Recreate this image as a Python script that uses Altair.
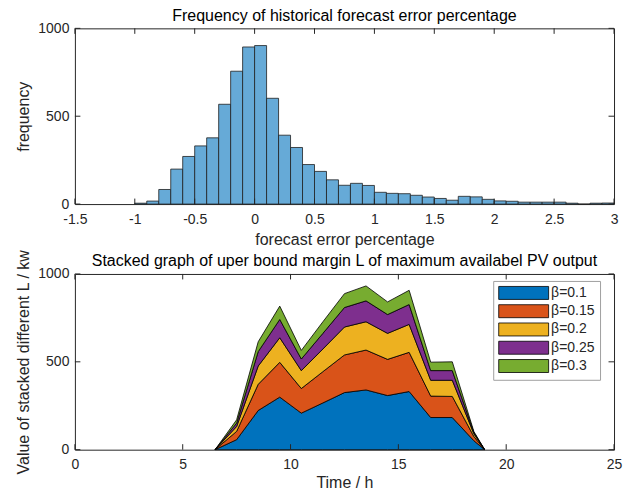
import altair as alt
import pandas as pd

# ---------------- data: histogram ----------------
bin_starts = [-1.0, -0.9, -0.8, -0.7, -0.6, -0.5, -0.4, -0.3, -0.2, -0.1,
              0.0, 0.1, 0.2, 0.3, 0.4, 0.5, 0.6, 0.7, 0.8, 0.9,
              1.0, 1.1, 1.2, 1.3, 1.4, 1.5, 1.6, 1.7, 1.8, 1.9,
              2.0, 2.1, 2.2, 2.3, 2.4, 2.5, 2.6, 2.7, 2.8, 2.9]
bin_width = 0.1
counts = [5, 17, 83, 199, 271, 331, 377, 568, 756, 894,
          902, 602, 392, 322, 225, 186, 138, 107, 118, 106,
          67, 61, 59, 50, 40, 32, 22, 44, 41, 27,
          18, 16, 11, 11, 11, 11, 5, 0, 5, 6]

hist_x_ticks = [-1.5, -1.0, -0.5, 0.0, 0.5, 1.0, 1.5, 2.0, 2.5, 3.0]
hist_y_ticks = [0, 500, 1000]

# ---------------- data: stacked area ----------------
hours = [6.5, 7.5, 8.5, 9.5, 10.5, 11.5, 12.5, 13.5, 14.5, 15.5, 16.5, 17.5, 18.5, 19.0]
series_names = ["β=0.1", "β=0.15", "β=0.2", "β=0.25", "β=0.3"]
beta_01 = [0, 57, 223, 299, 208, 266, 325, 340, 308, 331, 183, 183, 51, 0]
beta_015 = [0, 47, 149, 198, 140, 178, 214, 227, 206, 223, 122, 120, 24, 0]
beta_02 = [0, 28, 104, 140, 102, 129, 159, 161, 148, 159, 90, 92, 16, 0]
beta_025 = [0, 19, 82, 104, 66, 89, 111, 119, 107, 113, 55, 55, 7, 0]
beta_03 = [0, 19, 56, 76, 49, 66, 79, 85, 72, 81, 48, 50, 6, 0]
series_colors = ["#0072BD", "#D95319", "#EDB120", "#7E2F8E", "#77AC30"]

area_x_ticks = [0, 5, 10, 15, 20, 25]
area_y_ticks = [0, 500, 1000]

# ---------------- tables ----------------
hist_df = pd.DataFrame({
    "start": bin_starts,
    "end": [round(s + bin_width, 2) for s in bin_starts],
    "count": counts,
})

rows = []
for idx, (name, vals) in enumerate(zip(series_names,
                                       [beta_01, beta_015, beta_02, beta_025, beta_03])):
    for h, v in zip(hours, vals):
        rows.append({"hour": h, "series": name, "value": v, "idx": idx})
area_df = pd.DataFrame(rows)

W, H = 540, 176
TICK = 5.5
INK = "#262626"
FONT = "Liberation Sans"


def inside_ticks(xticks, yticks, xscale, yscale):
    xt = pd.DataFrame({"t": xticks})
    yt = pd.DataFrame({"t": yticks})
    bx = alt.Chart(xt).mark_rule(color=INK, strokeWidth=1).encode(
        x=alt.X("t:Q", scale=xscale), y=alt.value(H), y2=alt.value(H - TICK))
    tx = alt.Chart(xt).mark_rule(color=INK, strokeWidth=1).encode(
        x=alt.X("t:Q", scale=xscale), y=alt.value(0), y2=alt.value(TICK))
    ly = alt.Chart(yt).mark_rule(color=INK, strokeWidth=1).encode(
        y=alt.Y("t:Q", scale=yscale), x=alt.value(0), x2=alt.value(TICK))
    ry = alt.Chart(yt).mark_rule(color=INK, strokeWidth=1).encode(
        y=alt.Y("t:Q", scale=yscale), x=alt.value(W - TICK), x2=alt.value(W))
    return [bx, tx, ly, ry]


# ---------------- top: histogram ----------------
hx = alt.Scale(domain=[-1.5, 3.0], nice=False, zero=False)
hy = alt.Scale(domain=[0, 1000], nice=False)

bars = alt.Chart(hist_df).mark_bar(
    color="#66AAD7", stroke="#1f1f1f", strokeWidth=0.8, opacity=1
).encode(
    x=alt.X("start:Q", scale=hx,
            axis=alt.Axis(values=hist_x_ticks, labelExpr="toString(datum.value)",
                          titlePadding=5),
            title="forecast error percentage"),
    x2="end:Q",
    y=alt.Y("count:Q", scale=hy,
            axis=alt.Axis(values=hist_y_ticks, labelExpr="toString(datum.value)"),
            title="frequency"),
    y2=alt.datum(0),
)

top = alt.layer(bars, *inside_ticks(hist_x_ticks, hist_y_ticks, hx, hy)).properties(
    width=W, height=H,
    title=alt.TitleParams("Frequency of historical forecast error percentage", offset=-3),
)

# ---------------- bottom: stacked area ----------------
ax = alt.Scale(domain=[0, 25], nice=False, zero=False)
ay = alt.Scale(domain=[0, 1000], nice=False)

area = alt.Chart(area_df).mark_area(
    stroke="black", strokeWidth=0.8, opacity=1
).encode(
    x=alt.X("hour:Q", scale=ax,
            axis=alt.Axis(values=area_x_ticks, labelExpr="toString(datum.value)",
                          titlePadding=3),
            title="Time / h"),
    y=alt.Y("value:Q", stack="zero", scale=ay,
            axis=alt.Axis(values=area_y_ticks, labelExpr="toString(datum.value)"),
            title="Value of stacked different L / kw"),
    color=alt.Color("series:N",
                    scale=alt.Scale(domain=series_names, range=series_colors),
                    title=None,
                    legend=alt.Legend(
                        orient="none", legendX=419, legendY=7,
                        direction="vertical",
                        padding=5,
                        fillColor="white", strokeColor="#a0a0a0",
                        symbolType="M-1,-1H6.69V1H-1Z",
                        symbolSize=169,
                        symbolStrokeColor="black", symbolStrokeWidth=0.8,
                        symbolOpacity=1,
                        labelFont=FONT, labelFontSize=14, labelColor=INK,
                        labelOffset=39, rowPadding=0.3,
                    )),
    order=alt.Order("idx:Q"),
)

bottom = alt.layer(area, *inside_ticks(area_x_ticks, area_y_ticks, ax, ay)).properties(
    width=W, height=H,
    title=alt.TitleParams(
        "Stacked graph of uper bound margin L of maximum availabel PV output",
        offset=-20),
)

chart = alt.vconcat(top, bottom, spacing=70, bounds="flush").resolve_legend(
    color="independent"
).properties(
    padding={"left": 7, "top": -1, "right": 5, "bottom": 0}
).configure_view(
    stroke=INK, strokeWidth=1
).configure_axis(
    ticks=False, domain=False, grid=False, labelFlush=False,
    labelFont=FONT, labelFontSize=14, labelColor=INK, labelPadding=8,
    titleFont=FONT, titleFontSize=16, titleFontWeight="normal", titleColor=INK,
    titlePadding=6,
).configure_axisY(
    labelPadding=6,
).configure_title(
    font=FONT, fontSize=16, fontWeight="normal", color="black",
)

chart.save("out.html", embed_options={"renderer": "svg", "actions": False})
